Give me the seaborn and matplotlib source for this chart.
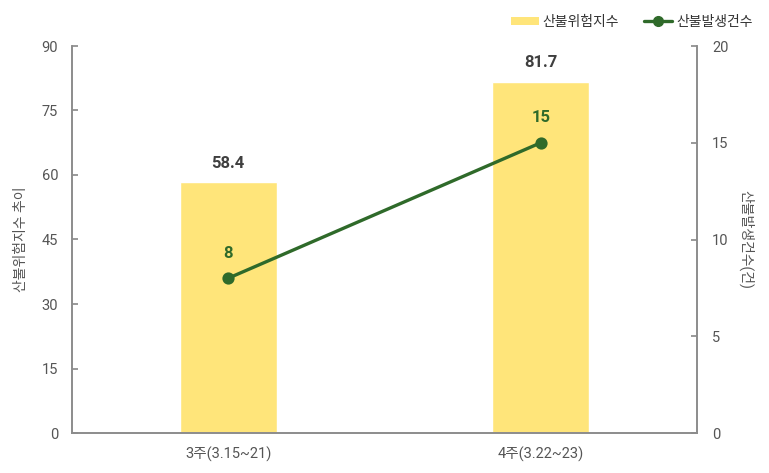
import matplotlib
matplotlib.use("Agg")
import matplotlib.pyplot as plt
import seaborn as sns
import pandas as pd
from matplotlib.patches import Patch
from matplotlib.lines import Line2D

weeks = ["3주(3.15~21)", "4주(3.22~23)"]
risk_index = [58.4, 81.7]
fire_counts = [8, 15]
left_ticks = [0, 15, 30, 45, 60, 75, 90]
right_ticks = [0, 5, 10, 15, 20]

sns.set_theme(style="white")
plt.rcParams['font.family'] = ['Roboto', 'Noto Sans CJK KR', 'DejaVu Sans']

BAR_COLOR = "#FFE57A"
LINE_COLOR = "#2F6A2A"
SPINE = "#8C8C8C"
TICK_TXT = "#555555"

df = pd.DataFrame({"week": weeks, "risk": risk_index, "fires": fire_counts})

fig = plt.figure(figsize=(7.69, 4.73), dpi=100)
ax = fig.add_axes([72/769, 1-433/473, (697-72)/769, (433-46)/473])
sns.barplot(data=df, x="week", y="risk", color=BAR_COLOR, saturation=1,
            width=0.31, ax=ax, zorder=2)
ax.set_xlim(-0.5, 1.5)
ax.set_ylim(0, 90)
ax.set_yticks(left_ticks)

ax2 = ax.twinx()
sns.pointplot(data=df, x="week", y="fires", color=LINE_COLOR, ax=ax2,
              markers="o", markersize=7, linewidth=2.4, errorbar=None)
ax2.set_xlim(-0.5, 1.5)
ax2.set_ylim(0, 20)
ax2.set_yticks(right_ticks)

for a in (ax, ax2):
    for s in a.spines.values():
        s.set_color(SPINE)
        s.set_linewidth(1.2)
    a.spines['top'].set_visible(False)
    a.tick_params(axis='y', direction='in', length=4, color=SPINE,
                  labelsize=10.5, labelcolor=TICK_TXT)
    a.set_xlabel("")

ax.tick_params(axis='y', left=True, pad=10)
ax2.tick_params(axis='y', right=True, pad=11)
ax.tick_params(axis='x', length=0, labelsize=10.5, labelcolor=TICK_TXT, pad=10)

ax.set_ylabel("산불위험지수 추이", fontsize=10, color=TICK_TXT, labelpad=10)
ax2.set_ylabel("산불발생건수(건)", fontsize=10, color=TICK_TXT, rotation=270,
               labelpad=18)

for i, v in enumerate(risk_index):
    ax.annotate(f"{v}", (i, v), xytext=(0, 13.5), textcoords="offset points",
                ha="center", va="center", fontsize=12, fontweight="bold",
                color="#3F3F3F")
for i, v in enumerate(fire_counts):
    ax2.annotate(f"{v}", (i, v), xytext=(0, 18), textcoords="offset points",
                 ha="center", va="center", fontsize=12, fontweight="bold",
                 color=LINE_COLOR)

handles = [Patch(facecolor=BAR_COLOR, edgecolor="none", label="산불위험지수"),
           Line2D([0], [0], color=LINE_COLOR, lw=2.4, marker="o", markersize=7,
                  label="산불발생건수")]
fig.legend(handles=handles, loc="upper right", bbox_to_anchor=(0.995, 0.995),
           ncol=2, frameon=False, fontsize=10, labelcolor="#333333",
           handlelength=2.0, handleheight=0.6, columnspacing=1.8,
           handletextpad=0.3)

fig.savefig("out.png", dpi=100)
